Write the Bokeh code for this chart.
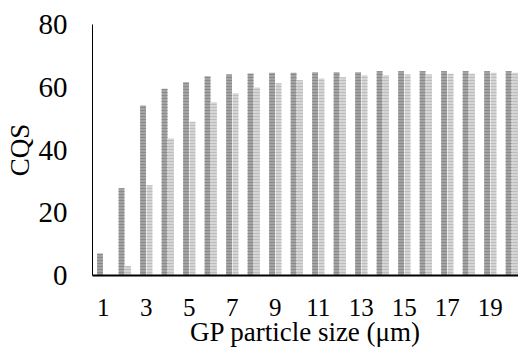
from bokeh.plotting import figure
from bokeh.models import ColumnDataSource, FixedTicker, Range1d
from bokeh.transform import dodge
from bokeh.embed import file_html
from bokeh.resources import INLINE

sizes = list(range(1, 21))
series_a = [7.0, 27.8, 54.2, 59.5, 61.6, 63.5, 64.1, 64.4, 64.6, 64.6,
            64.8, 64.8, 64.8, 65.1, 65.1, 65.1, 65.1, 65.1, 65.1, 65.1]
series_b = [0.0, 3.0, 28.8, 43.7, 49.0, 55.2, 58.1, 59.9, 61.3, 62.2,
            62.8, 63.2, 63.8, 63.8, 64.1, 64.1, 64.3, 64.3, 64.6, 64.6]
x_ticks = [1, 3, 5, 7, 9, 11, 13, 15, 17, 19]
y_ticks = [0, 20, 40, 60, 80]

src = ColumnDataSource(dict(x=sizes, a=series_a, b=series_b))

p = figure(width=518, height=349, output_backend="svg", toolbar_location=None,
           x_range=Range1d(0.5, 20.31), y_range=Range1d(0, 80),
           min_border_left=92, min_border_right=0, min_border_top=24,
           min_border_bottom=73)
p.outline_line_color = None
p.grid.visible = False
p.background_fill_color = "white"
p.border_fill_color = "white"

p.vbar(x=dodge("x", -0.15, range=p.x_range), top="a", width=0.27, source=src,
       fill_color="#a3a3a3", line_color=None,
       hatch_pattern="horizontal_line", hatch_color="#8a8a8a",
       hatch_scale=3, hatch_weight=1)
p.vbar(x=dodge("x", 0.15, range=p.x_range), top="b", width=0.27, source=src,
       fill_color="#d4d4d4", line_color=None,
       hatch_pattern="horizontal_line", hatch_color="#bdbdbd",
       hatch_scale=3, hatch_weight=1)

font = "Liberation Serif"
p.xaxis.ticker = FixedTicker(ticks=x_ticks)
p.yaxis.ticker = FixedTicker(ticks=y_ticks)
for ax in (p.xaxis[0], p.yaxis[0]):
    ax.major_tick_out = 0
    ax.major_tick_in = 0
    ax.minor_tick_out = 0
    ax.minor_tick_in = 0
    ax.axis_line_color = "black"
    ax.major_label_text_font = font
    ax.major_label_text_color = "black"
    ax.axis_label_text_font = font
    ax.axis_label_text_font_size = "27px"
    ax.axis_label_text_font_style = "normal"
    ax.axis_label_text_color = "black"

p.xaxis.major_label_text_font_size = "25px"
p.yaxis.major_label_text_font_size = "29px"
p.xaxis.axis_line_width = 2
p.yaxis.axis_line_width = 1
p.xaxis.axis_label = "GP particle size (μm)"
p.yaxis.axis_label = "CQS"
p.xaxis.major_label_standoff = 23
p.xaxis.axis_label_standoff = -2
p.yaxis.major_label_standoff = 25
p.yaxis.axis_label_standoff = 1

open("out.html", "w").write(file_html(p, INLINE))
